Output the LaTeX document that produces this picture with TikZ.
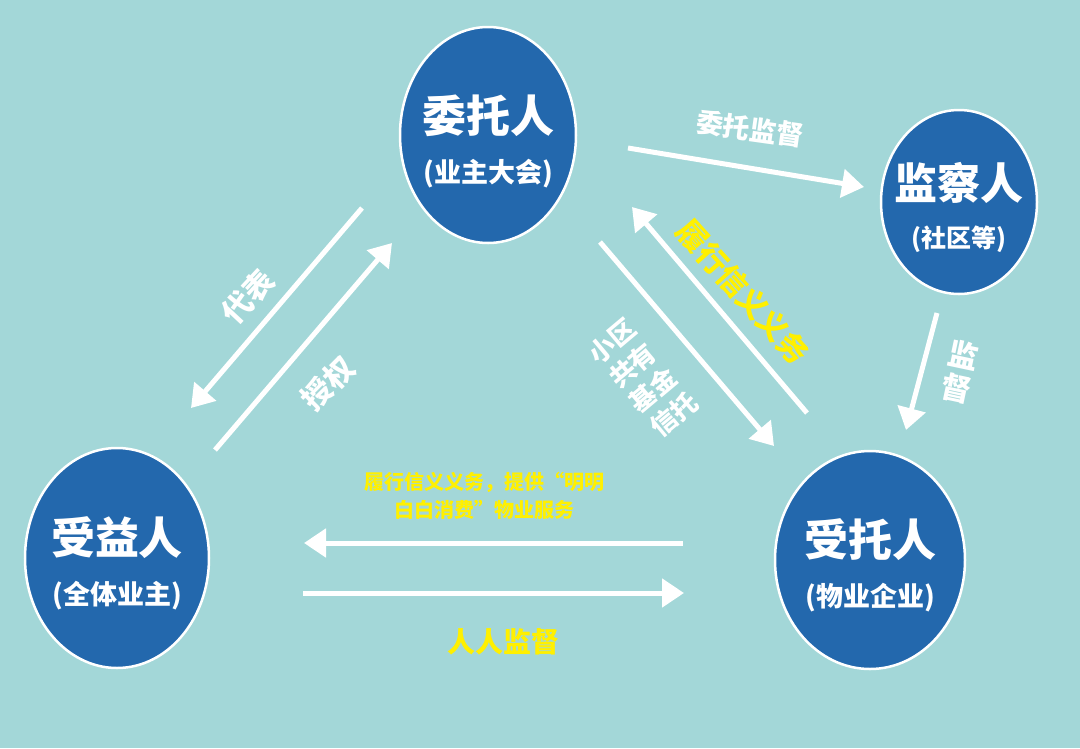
\documentclass[tikz,border=0pt]{standalone}
\usepackage{fontspec}
\setmainfont{Noto Sans CJK SC}
\usetikzlibrary{arrows.meta,shapes.geometric}
\definecolor{PanelTeal}{HTML}{A3D7D8}
\definecolor{RoleBlue}{HTML}{2368AD}
\definecolor{NoteYellow}{HTML}{FFF000}

\begin{document}
\begin{tikzpicture}[x=1pt,y=-1pt,>={Triangle[length=22pt,width=28pt]},font=\bfseries]
\tikzset{role/.style={ellipse,draw=white,line width=2.5pt,fill=RoleBlue,inner sep=0pt},
         rolename/.style={text=white,align=center,font=\bfseries\fontsize{44}{52}\selectfont},
         flow/.style={->,draw=white,line width=5pt},
         tag/.style={text=white,align=center,inner sep=0pt},
         note/.style={text=NoteYellow,align=center,inner sep=0pt}}
\fill[PanelTeal] (0,0) rectangle (1080,748);
\useasboundingbox (0,0) rectangle (1080,748);
% the four parties
\node[role,minimum width=176pt,minimum height=216pt] (trustor) at (488,135) {};
\node[role,minimum width=156pt,minimum height=184pt] (monitor) at (959,202) {};
\node[role,minimum width=184pt,minimum height=220pt] (benef) at (117,558) {};
\node[role,minimum width=190pt,minimum height=218pt] (trustee) at (870,560) {};
\node[rolename] (trustorT) at ([yshift=-6pt]trustor) {委托人\\[-2pt]{\fontsize{27}{30}\selectfont (业主大会)}};
\node[rolename,font=\bfseries\fontsize{43}{50}\selectfont] (monitorT) at ([yshift=-5pt]monitor) {监察人\\[-2pt]{\fontsize{25}{28}\selectfont (社区等)}};
\node[rolename] (benefT) at ([yshift=-5pt]benef) {受益人\\[-2pt]{\fontsize{27}{30}\selectfont (全体业主)}};
\node[rolename] (trusteeT) at ([yshift=-5pt]trustee) {受托人\\[-2pt]{\fontsize{27}{30}\selectfont (物业企业)}};
% arrow ends
\coordinate (supA) at (628,148);   \coordinate (supB) at (864,187);
\coordinate (repA) at (362,208);   \coordinate (repB) at (191,408);
\coordinate (authA) at (215,450);  \coordinate (authB) at (392,243);
\coordinate (fundA) at (600,242);  \coordinate (fundB) at (774,446);
\coordinate (dutyA) at (807,413);  \coordinate (dutyB) at (632,207);
\coordinate (watchA) at (937,313); \coordinate (watchB) at (906,430);
\coordinate (servA) at (683,543);  \coordinate (servB) at (304,543);
\coordinate (peerA) at (303,593);  \coordinate (peerB) at (684,593);
\draw[flow] (supA) -- (supB);
\draw[flow] (repA) -- (repB);
\draw[flow] (authA) -- (authB);
\draw[flow] (fundA) -- (fundB);
\draw[flow] (dutyA) -- (dutyB);
\draw[flow] (watchA) -- (watchB);
\draw[flow] (servA) -- (servB);
\draw[flow] (peerA) -- (peerB);
% labels
\node[tag,rotate=-8,font=\bfseries\fontsize{27}{30}\selectfont] (supL) at (750,129) {委托监督};
\node[tag,rotate=47,font=\bfseries\fontsize{30}{32}\selectfont] (repL) at (248,297) {代表};
\node[tag,rotate=45,font=\bfseries\fontsize{30}{32}\selectfont] (authL) at (328,383) {授权};
\node[tag,rotate=40,font=\bfseries\fontsize{26}{32}\selectfont] (fundL) at (643,378) {小区\\共有\\基金\\信托};
\node[note,rotate=-48,font=\bfseries\fontsize{30}{32}\selectfont] (dutyL) at (743,292) {履行信义义务};
\node[tag,rotate=-12,font=\bfseries\fontsize{30}{33}\selectfont] (watchL) at (960,372) {监\\督};
\node[note,font=\bfseries\fontsize{20}{28}\selectfont] (servL) at (484,496) {履行信义义务，提供“明明\\白白消费”物业服务};
\node[note,font=\bfseries\fontsize{28}{30}\selectfont] (peerL) at (503,642) {人人监督};
\end{tikzpicture}
\end{document}
